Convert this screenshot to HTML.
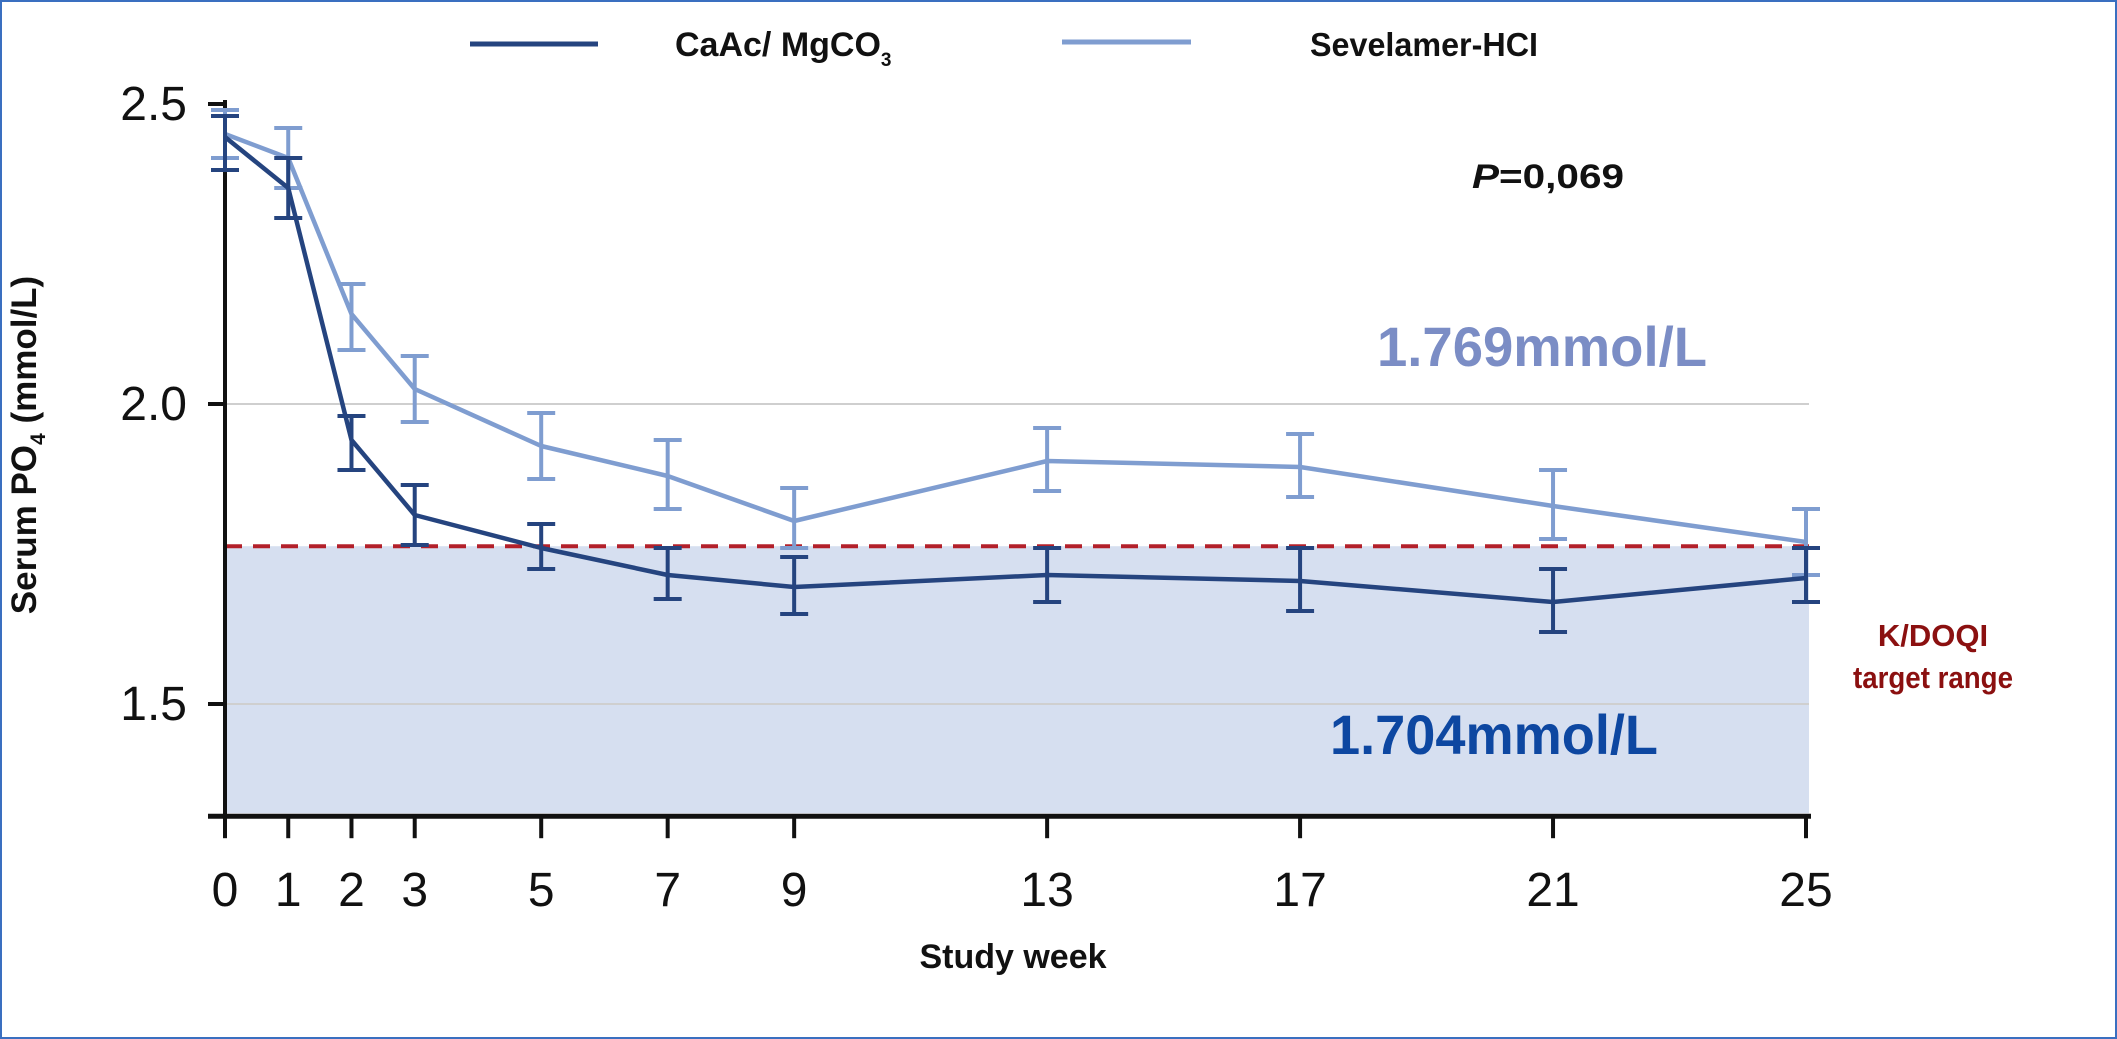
<!DOCTYPE html>
<html><head><meta charset="utf-8">
<style>
html,body{margin:0;padding:0;background:#fff;}
body{width:2117px;height:1039px;overflow:hidden;position:relative;}
svg{position:absolute;left:0;top:0;}
.b{font-family:"Liberation Sans Narrow","Liberation Sans",sans-serif;font-weight:bold;}
.t{font-family:"Liberation Sans Narrow","Liberation Sans",sans-serif;font-weight:normal;}
</style></head>
<body>
<svg id="chart" width="2117" height="1039" viewBox="0 0 2117 1039">
  <rect x="1" y="1" width="2115" height="1037" fill="none" stroke="#3a6fc0" stroke-width="2"/>
  <g id="plot"></g>
  <g>
    <line x1="470" y1="44" x2="598" y2="44" stroke="#25447f" stroke-width="5"/>
    <text x="675" y="56" class="b" font-size="34" fill="#111">CaAc/ MgCO<tspan font-size="19" dy="10">3</tspan></text>
    <line x1="1062" y1="42" x2="1191" y2="42" stroke="#7f9dd0" stroke-width="5"/>
    <text x="1310" y="56" class="b" font-size="33" fill="#111" textLength="228" lengthAdjust="spacingAndGlyphs">Sevelamer-HCI</text>
  </g>
  <text x="1472" y="188" class="b" font-size="34" fill="#111" textLength="152" lengthAdjust="spacingAndGlyphs"><tspan font-style="italic">P</tspan>=0,069</text>
  <text x="1377" y="366" class="b" font-size="56" fill="#7b8dc5" textLength="330" lengthAdjust="spacingAndGlyphs">1.769mmol/L</text>
  <text x="1330" y="754" class="b" font-size="56" fill="#0d47a1" textLength="328" lengthAdjust="spacingAndGlyphs">1.704mmol/L</text>
  <text x="1933" y="646" class="b" font-size="31" fill="#8b1010" text-anchor="middle">K/DOQI</text>
  <text x="1933" y="688" class="b" font-size="31" fill="#8b1010" text-anchor="middle" textLength="160" lengthAdjust="spacingAndGlyphs">target range</text>
  <text transform="translate(36,445) rotate(-90)" class="b" font-size="35" fill="#111" text-anchor="middle">Serum PO<tspan font-size="21" dy="9">4</tspan><tspan dy="-9"> (mmol/L)</tspan></text>
  <text x="1013" y="968" class="b" font-size="34" fill="#111" text-anchor="middle">Study week</text>
</svg>
<script>
const weeks = [0,1,2,3,5,7,9,13,17,21,25];
const caacMean = [2.445,2.36,1.94,1.815,1.76,1.715,1.695,1.715,1.705,1.67,1.71];
const caacLow  = [2.39,2.31,1.89,1.765,1.725,1.675,1.65,1.67,1.655,1.62,1.67];
const caacHigh = [2.48,2.41,1.98,1.865,1.80,1.76,1.745,1.76,1.76,1.725,1.76];
const sevMean = [2.45,2.41,2.15,2.025,1.93,1.88,1.805,1.905,1.895,1.83,1.77];
const sevLow  = [2.41,2.36,2.09,1.97,1.875,1.825,1.76,1.855,1.845,1.775,1.715];
const sevHigh = [2.49,2.46,2.20,2.08,1.985,1.94,1.86,1.96,1.95,1.89,1.825];
const yTicks = [1.5,2.0,2.5];
const yTickLabels = ["1.5","2.0","2.5"];
const targetLimit = 1.763;
const yMinVal = 1.313;

const X0 = 225, X1 = 1806, Y25 = 104, Y20 = 404;
function xs(w){ return X0 + (w/25)*(X1-X0); }
function ys(v){ return Y20 - (v-2.0)*(Y20-Y25)/0.5; }
const NS = "http://www.w3.org/2000/svg";
const g = document.getElementById('plot');
function mk(tag, attrs){ const e=document.createElementNS(NS,tag); for(const k in attrs) e.setAttribute(k,attrs[k]); g.appendChild(e); return e; }

const right = 1809, axisY = ys(yMinVal);
let f = mk('rect',{x:X0,y:ys(targetLimit),width:right-X0,height:axisY-ys(targetLimit)-3,fill:'#d6dff0'});


yTicks.forEach((v,i)=>{
  if(v<2.5){
    const l=mk('line',{x1:X0,x2:right,y1:ys(v),y2:ys(v),stroke:'#cfcfcf','stroke-width':2});
    
    
  }
  const t=mk('line',{x1:X0-17,x2:X0,y1:ys(v),y2:ys(v),stroke:'#111','stroke-width':4});
  
  
  const tx=mk('text',{x:X0-38,y:ys(v)+16,'text-anchor':'end','font-size':48,fill:'#111','class':'t'});
  tx.textContent=yTickLabels[i];
  
  
});
let d = mk('line',{x1:X0,x2:right,y1:ys(targetLimit),y2:ys(targetLimit),stroke:'#b3202a','stroke-width':4,'stroke-dasharray':'17,11'});


let ya = mk('line',{x1:X0,x2:X0,y1:ys(2.5)-4,y2:axisY+2,stroke:'#111','stroke-width':4});


let xa = mk('line',{x1:X0-17,x2:right+2,y1:axisY,y2:axisY,stroke:'#111','stroke-width':5});


weeks.forEach(w=>{
  const t=mk('line',{x1:xs(w),x2:xs(w),y1:axisY,y2:axisY+22,stroke:'#111','stroke-width':4});
  
  
  const tx=mk('text',{x:xs(w),y:axisY+90,'text-anchor':'middle','font-size':48,fill:'#111','class':'t'});
  tx.textContent=String(w);
  
  
});
function series(mean,low,high,color,name){
  weeks.forEach((w,i)=>{
    const x=xs(w);
    const e=mk('path',{d:`M${x-14},${ys(high[i])}H${x+14}M${x},${ys(high[i])}V${ys(low[i])}M${x-14},${ys(low[i])}H${x+14}`,stroke:color,'stroke-width':4,fill:'none'});
    
    
  });
  const pts=weeks.map((w,i)=>xs(w)+','+ys(mean[i])).join(' ');
  const p=mk('polyline',{points:pts,stroke:color,'stroke-width':4.5,fill:'none','stroke-linejoin':'round'});
  
  
}
series(sevMean,sevLow,sevHigh,'#7f9dd0','sevelamer');
series(caacMean,caacLow,caacHigh,'#25447f','caac');
</script>
</body></html>
